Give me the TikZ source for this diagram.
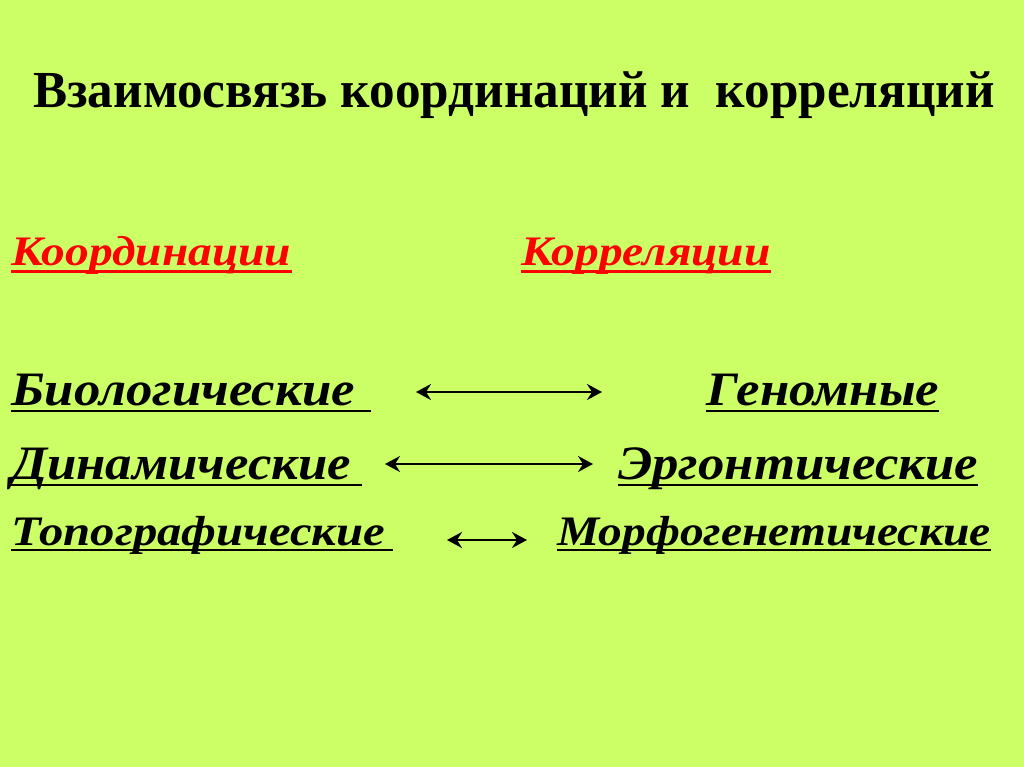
\documentclass[tikz,border=0pt]{standalone}
\usepackage{fontspec}
\setmainfont{Liberation Serif}
\newfontfamily\titlefont[FakeStretch=0.985]{Liberation Serif Bold}
\newfontfamily\redfont[FakeStretch=1.13]{Liberation Serif Bold Italic}
\newfontfamily\wordfont[FakeStretch=1.1]{Liberation Serif Bold Italic}
\newfontfamily\smallwordfont[FakeStretch=1.13]{Liberation Serif Bold Italic}
\newfontfamily\smallwordfontw[FakeStretch=1.16]{Liberation Serif Bold Italic}
\usetikzlibrary{arrows.meta}
\definecolor{bg}{HTML}{CCFF66}
\definecolor{redtxt}{HTML}{FF0000}
\tikzset{
  title/.style={anchor=base west, inner sep=0pt, font=\fontsize{52}{58}\titlefont},
  head/.style={anchor=base west, inner sep=0pt, text=redtxt, font=\fontsize{42}{48}\redfont},
  word/.style={anchor=base west, inner sep=0pt, font=\fontsize{48}{54}\wordfont},
  smallword/.style={anchor=base west, inner sep=0pt, font=\fontsize{42}{48}\smallwordfont},
  smallwordw/.style={anchor=base west, inner sep=0pt, font=\fontsize{42}{48}\smallwordfontw},
  redul/.style={draw=redtxt, line width=3pt},
  blackul/.style={draw=black, line width=2.5pt},
  dbl/.style={line width=2.3pt, {Stealth[length=15pt,width=16pt,inset=5pt]}-{Stealth[length=15pt,width=16pt,inset=5pt]}},
}
\begin{document}
\begin{tikzpicture}[x=1pt,y=-1pt]
\fill[bg] (0,0) rectangle (1024,767);
\useasboundingbox (0,0) rectangle (1024,767);
\node[title] (t) at (33,108) {Взаимосвязь координаций и\ \ корреляций};
\node[head] (h1) at (11,265) {Координации};
\node[head] (h2) at (521,265) {Корреляции};
\draw[redul] ([yshift=-6pt]h1.base west) -- ([yshift=-6pt]h1.base east);
\draw[redul] ([yshift=-6pt]h2.base west) -- ([yshift=-6pt]h2.base east);
\node[word] (l1) at (11,405) {Биологические\kern16pt};
\node[word] (l2) at (11,479) {Динамические\kern10pt};
\node[smallwordw] (l3) at (11,545) {Топографические\kern8pt};
\node[word] (r1) at (706,405) {Геномные};
\node[word] (r2) at (618,479) {Эргонтические};
\node[smallword] (r3) at (557,545) {Морфогенетические};
\foreach \n in {l1,l2,r1,r2}
  \draw[blackul] ([yshift=-6pt]\n.base west) -- ([yshift=-6pt]\n.base east);
\foreach \n in {l3,r3}
  \draw[blackul] ([yshift=-5pt]\n.base west) -- ([yshift=-5pt]\n.base east);
\coordinate (a1l) at (416,392); \coordinate (a1r) at (602,392);
\coordinate (a2l) at (385,464); \coordinate (a2r) at (593,464);
\coordinate (a3l) at (447,540); \coordinate (a3r) at (527,540);
\draw[dbl] (a1l) -- (a1r);
\draw[dbl] (a2l) -- (a2r);
\draw[dbl] (a3l) -- (a3r);
\end{tikzpicture}
\end{document}
